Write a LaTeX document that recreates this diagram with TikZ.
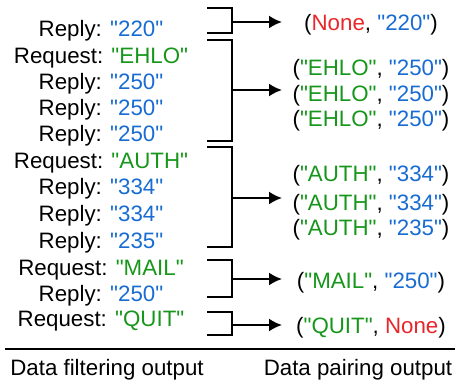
\documentclass[tikz,border=0pt]{standalone}
\usepackage{fontspec}
\setmainfont{Liberation Sans}[Ligatures = TeXOff]
\usetikzlibrary{arrows.meta}

\definecolor{reqgreen}{RGB}{22,150,26}
\definecolor{repblue}{RGB}{24,108,210}
\definecolor{nonered}{RGB}{232,38,42}

\newcommand{\reqtxt}[1]{\textcolor{reqgreen}{"#1"}}
\newcommand{\reptxt}[1]{\textcolor{repblue}{"#1"}}
\newcommand{\nonetxt}{\textcolor{nonered}{None}}

\begin{document}
\begin{tikzpicture}[x = 0.5pt, y = -0.5pt, > = {Latex[length = 6.5pt, width = 6.5pt]},
	every node/.style = {font = \fontsize{11.15}{13}\selectfont, inner sep = 0pt, anchor = base},
	bracket/.style = {line width = 1pt}]

	\useasboundingbox (0, 0) rectangle (455, 386);

	% Definition

	\def\Xl{101}	% Centre of filtering column
	\def\Xr{371}	% Centre of pairing column

	% Filtering output

	\node (l1)  at (\Xl, 36)  {Reply: \reptxt{220}};
	\node (l2)  at (\Xl, 63)  {Request: \reqtxt{EHLO}};
	\node (l3)  at (\Xl, 89)  {Reply: \reptxt{250}};
	\node (l4)  at (\Xl, 115) {Reply: \reptxt{250}};
	\node (l5)  at (\Xl, 141) {Reply: \reptxt{250}};
	\node (l6)  at (\Xl, 168) {Request: \reqtxt{AUTH}};
	\node (l7)  at (\Xl, 194) {Reply: \reptxt{334}};
	\node (l8)  at (\Xl, 221) {Reply: \reptxt{334}};
	\node (l9)  at (\Xl, 248) {Reply: \reptxt{235}};
	\node (l10) at (\Xl, 275) {Request: \reqtxt{MAIL}};
	\node (l11) at (\Xl, 301) {Reply: \reptxt{250}};
	\node (l12) at (\Xl, 326) {Request: \reqtxt{QUIT}};

	% Pairing output

	\node (r1) at (\Xr, 30)  {(\nonetxt, \reptxt{220})};
	\node (r2) at (\Xr, 75)  {(\reqtxt{EHLO}, \reptxt{250})};
	\node (r3) at (\Xr, 101) {(\reqtxt{EHLO}, \reptxt{250})};
	\node (r4) at (\Xr, 126) {(\reqtxt{EHLO}, \reptxt{250})};
	\node (r5) at (\Xr, 181) {(\reqtxt{AUTH}, \reptxt{334})};
	\node (r6) at (\Xr, 210) {(\reqtxt{AUTH}, \reptxt{334})};
	\node (r7) at (\Xr, 235) {(\reqtxt{AUTH}, \reptxt{235})};
	\node (r8) at (\Xr, 288) {(\reqtxt{MAIL}, \reptxt{250})};
	\node (r9) at (\Xr, 333) {(\reqtxt{QUIT}, \nonetxt)};

	% Brackets + arrows

	\foreach \ya/\yb/\ym/\k in {8/33/22/1, 40/141/90/2, 147/247/198/3, 260/297/279/4, 312/335/325/5}
	{
		\draw [bracket] (207, \ya) -- (232, \ya) -- (232, \yb) -- (207, \yb);

		\coordinate (b\k) at (232, \ym);
		\coordinate (t\k) at (282, \ym);

		\draw [bracket, ->] (b\k) -- (t\k);
	}

	% Separator + captions

	\coordinate (sepl) at (5, 349);
	\coordinate (sepr) at (455, 349);
	\draw [bracket] (sepl) -- (sepr);

	\node (capl) at (107, 375) {Data filtering output};
	\node (capr) at (358, 375) {Data pairing output};

\end{tikzpicture}
\end{document}
